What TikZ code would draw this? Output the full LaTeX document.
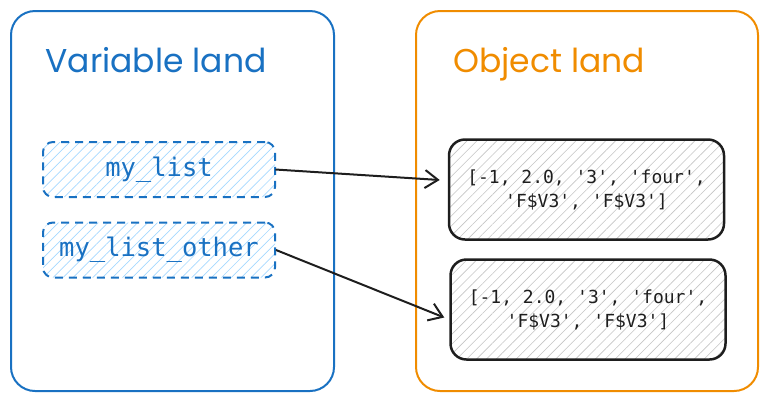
\documentclass[tikz,border=0pt]{standalone}
\usepackage{fontspec}
\setmainfont{Poppins}
\setmonofont{DejaVu Sans Mono}
\usetikzlibrary{arrows.meta,patterns.meta}
\definecolor{eblue}{HTML}{1971C2}
\definecolor{ehatch}{HTML}{A5D8FF}
\definecolor{eorange}{HTML}{F08C00}
\definecolor{eblack}{HTML}{1E1E1E}
\definecolor{ghatch}{HTML}{C4C4C4}
\tikzset{
  panel/.style={draw, line width=2pt, rounded corners=24pt},
  title/.style={anchor=base west, font=\fontsize{33}{38}\selectfont},
  varbox/.style={draw=eblue, dashed, dash pattern=on 8pt off 6pt, line width=2pt, rounded corners=10pt,
    pattern={Lines[angle=45,distance=7pt,line width=0.7pt]}, pattern color=ehatch,
    minimum width=232pt, minimum height=55pt, inner sep=0pt,
    text=eblue, font=\ttfamily\fontsize{25.5}{30}\selectfont},
  objbox/.style={draw=eblack, line width=2.5pt, rounded corners=16pt,
    pattern={Lines[angle=45,distance=7pt,line width=0.6pt]}, pattern color=ghatch,
    minimum width=275pt, minimum height=100pt, inner sep=0pt, align=center,
    text=eblack, font=\ttfamily\fontsize{18}{24}\selectfont},
  link/.style={draw=eblack, line width=2pt, -{Straight Barb[length=13pt,width=18pt,line width=2pt]}}
}
\begin{document}
\begin{tikzpicture}[x=1pt,y=-1pt]
\useasboundingbox (0,0) rectangle (767,400);
\node[panel, draw=eblue, minimum width=323pt, minimum height=380pt, anchor=north west] (vpanel) at (10,10) {};
\node[panel, draw=eorange, minimum width=342pt, minimum height=380pt, anchor=north west] (opanel) at (415,10) {};
\node[title, text=eblue] (vtitle) at (42,72) {Variable land};
\node[title, text=eorange] (otitle) at (450,72) {Object land};
\node[varbox] (v1) at (159,169.5) {my\_list};
\node[varbox] (v2) at (159,250) {my\_list\_other};
\node[objbox] (o1) at (586.5,189.5) {[-1, 2.0, '3', 'four',\\'F\$V3', 'F\$V3']};
\node[objbox] (o2) at (588,309.5) {[-1, 2.0, '3', 'four',\\'F\$V3', 'F\$V3']};
\draw[link] (v1.east) -- ([xshift=-9pt]o1.west |- 0,180);
\draw[link] (v2.east) -- ([xshift=-5pt,yshift=-8pt]o2.west);
\end{tikzpicture}
\end{document}
